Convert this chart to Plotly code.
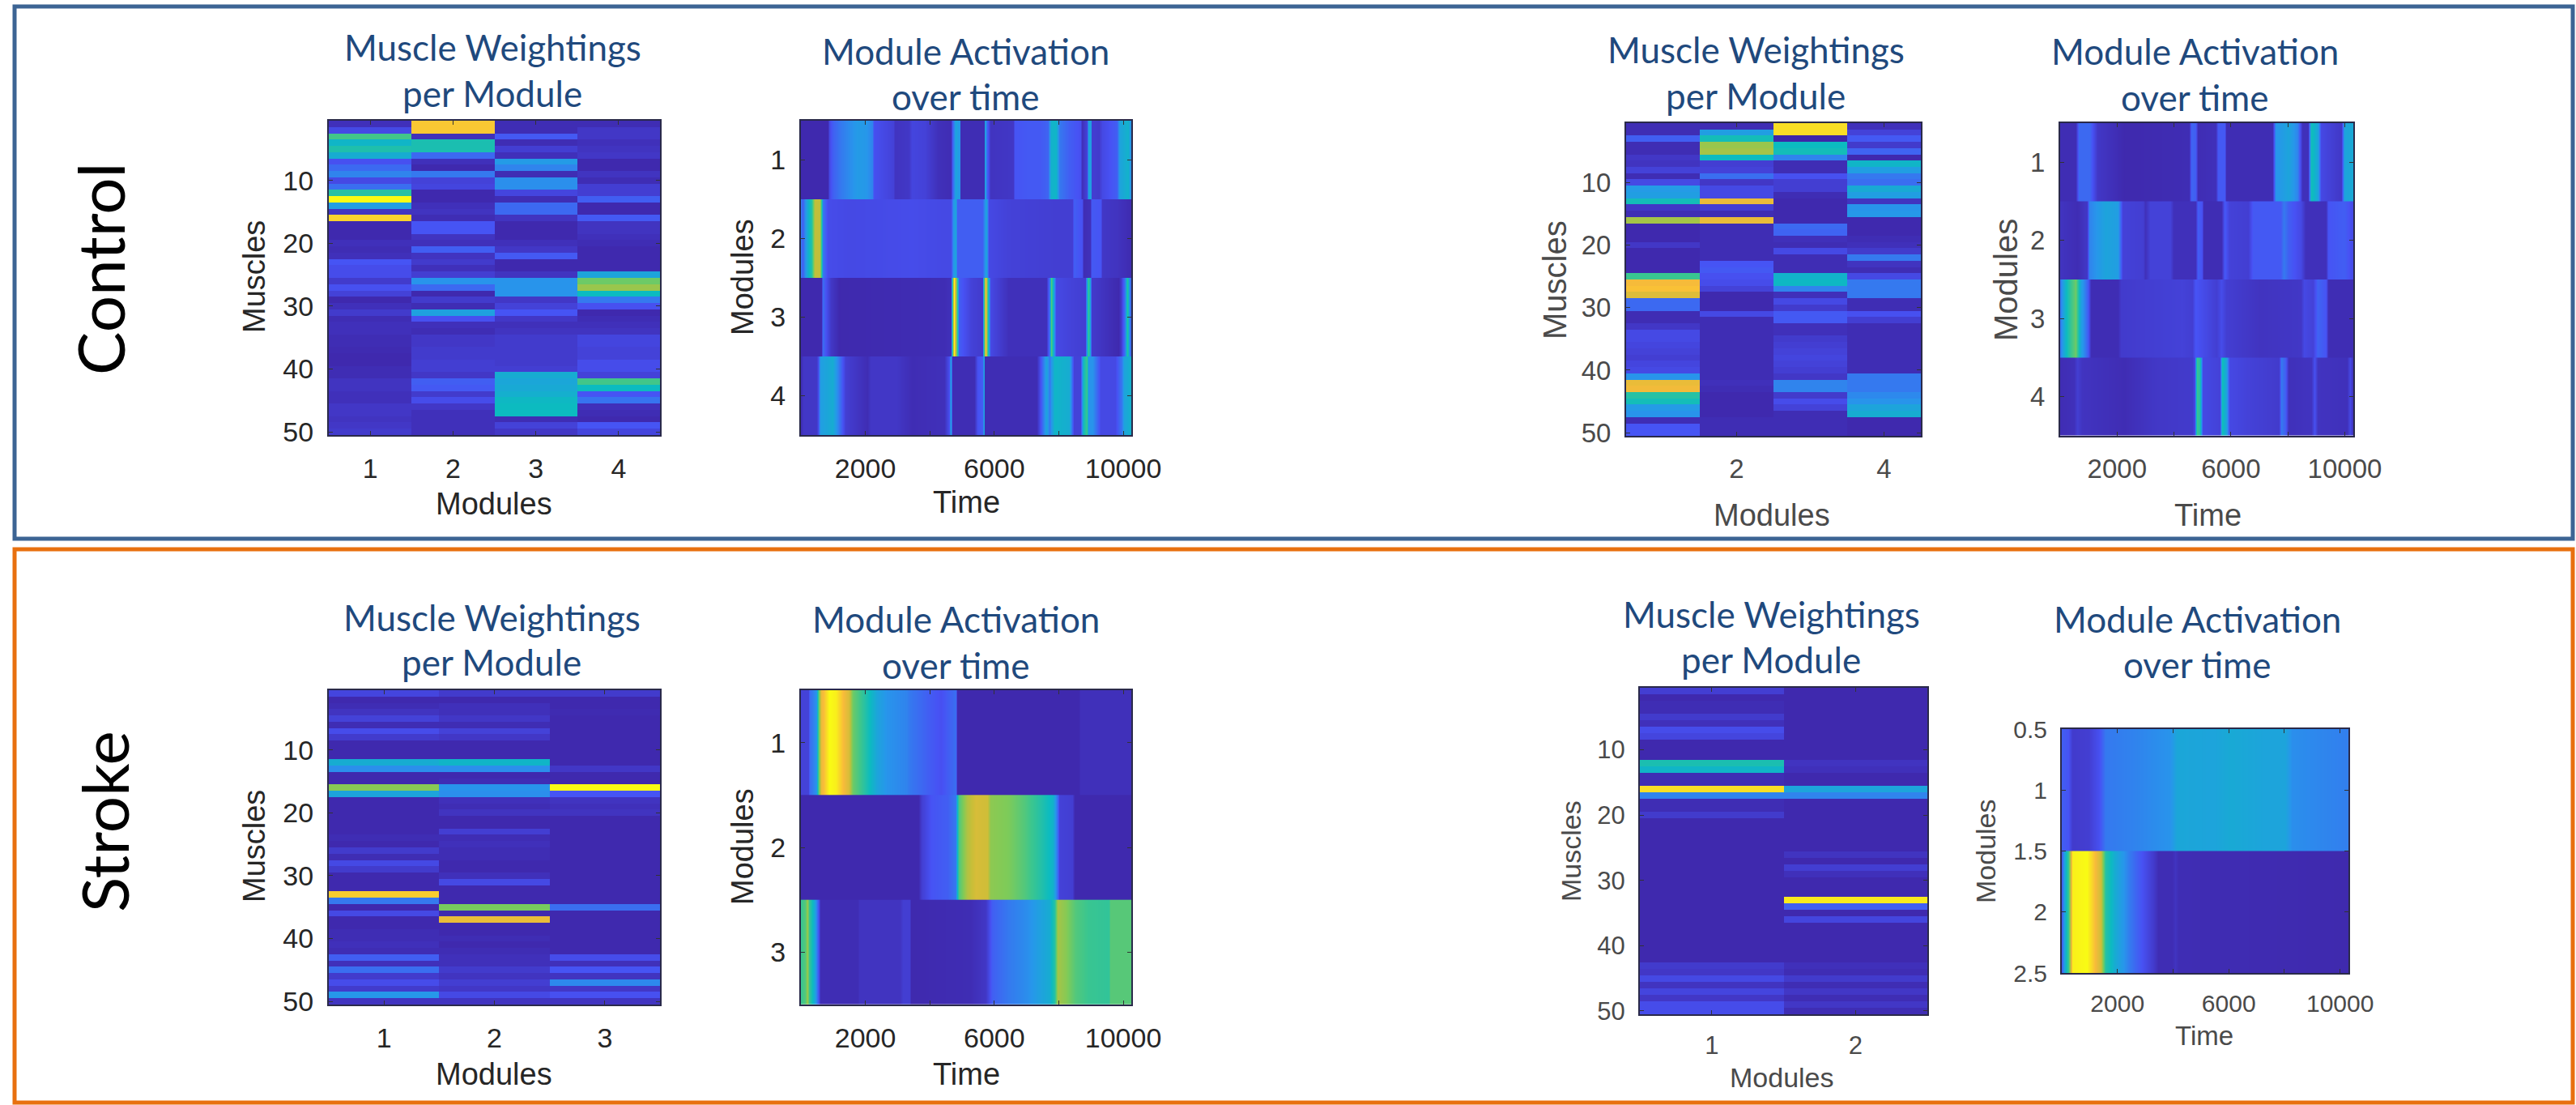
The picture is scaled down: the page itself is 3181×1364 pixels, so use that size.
import plotly.graph_objects as go

W, H = 3181, 1364

parula = [[0.0, "#3E26A8"], [0.127, "#4752F4"], [0.254, "#2796EB"], [0.38, "#0CBBC0"],
          [0.508, "#3CC68E"], [0.635, "#7FCB58"], [0.762, "#C8BE38"], [0.889, "#F9BB3A"], [1.0, "#F9FB14"]]

TITLE_COLOR = "#1F497D"
TICK_COLOR = "#262626"
SOFT_COLOR = "#4A4A4A"

# ---- Muscle weightings (50 muscles x modules) ----
ctrl1_w1 = [.03,.10,.52,.36,.43,.33,.12,.17,.22,.10, .18,.45,1.0,.28,.04,.93,.01,.01,.01,.03,
            .02,.03,.13,.11,.11,.06,.12,.08,.01,.03, .06,.02,.03,.03,.02,.02,.015,.01,.01,.02,
            .02,.04,.04,.03,.03,.05,.05,.04,.05,.06]
ctrl1_w2 = [.91,.91,.03,.42,.42,.17,.03,.01,.20,.08, .09,.01,.01,.03,.04,.02,.13,.13,.04,.03,
            .15,.04,.06,.03,.07,.25,.17,.01,.06,.02, .29,.12,.03,.02,.05,.05,.06,.06,.07,.07,
            .05,.15,.14,.06,.11,.05,.03,.03,.03,.03]
ctrl1_w3 = [.02,.02,.14,.02,.07,.03,.27,.22,.02,.24, .24,.09,.02,.17,.17,.04,.01,.01,.01,.03,
            .05,.14,.01,.01,.04,.25,.25,.25,.05,.08, .13,.05,.03,.04,.06,.06,.06,.06,.06,.07,
            .33,.31,.32,.34,.37,.38,.38,.02,.08,.05]
ctrl1_w4 = [.02,.05,.05,.03,.04,.05,.01,.01,.04,.02, .07,.07,.15,.01,.01,.14,.04,.04,.03,.02,
            .01,.01,.01,.01,.30,.60,.68,.38,.20,.12, .01,.02,.03,.04,.09,.09,.08,.08,.11,.11,
            .08,.52,.38,.13,.19,.03,.02,.01,.13,.09]

ctrl2_w1 = [.02,.02,.15,.02,.02,.05,.04,.08,.02,.10, .27,.28,.40,.05,.02,.70,.01,.01,.01,.05,
            .01,.01,.01,.01,.50,.88,.90,.82,.17,.17, .02,.02,.05,.10,.10,.09,.08,.07,.09,.10,
            .25,.85,.87,.45,.40,.27,.25,.02,.13,.13]
ctrl2_w2 = [.02,.28,.40,.68,.70,.38,.07,.08,.18,.05, .10,.10,.85,.07,.02,.85,.02,.02,.02,.02,
            .02,.02,.13,.14,.12,.11,.08,.01,.01,.01, .10,.02,.02,.02,.02,.02,.02,.02,.02,.02,
            .02,.03,.02,.01,.01,.01,.01,.02,.02,.02]
ctrl2_w3 = [.95,.95,.00,.38,.40,.22,.02,.02,.12,.07, .07,.02,.01,.01,.01,.01,.17,.16,.03,.02,
            .10,.02,.02,.02,.35,.37,.22,.03,.10,.06, .14,.14,.03,.03,.06,.07,.08,.09,.08,.07,
            .05,.22,.22,.06,.11,.08,.02,.02,.02,.02]
ctrl2_w4 = [.03,.08,.14,.06,.16,.01,.36,.28,.20,.18, .32,.28,.04,.25,.26,.01,.01,.01,.02,.03,
            .06,.20,.04,.02,.10,.20,.20,.20,.02,.02, .12,.07,.02,.02,.02,.02,.02,.02,.02,.02,
            .20,.20,.20,.23,.25,.30,.33,.01,.01,.01]

strk1_w1 = [.09,.01,.02,.04,.08,.02,.11,.06,.01,.01, .01,.33,.24,.01,.01,.65,.30,.01,.01,.01,
            .01,.01,.01,.02,.01,.06,.02,.10,.06,.01, .01,.01,.92,.20,.01,.10,.01,.01,.02,.02,
            .03,.02,.15,.03,.18,.06,.11,.06,.26,.04]
strk1_w2 = [.06,.01,.03,.03,.05,.02,.08,.05,.01,.01, .01,.36,.24,.01,.02,.25,.24,.03,.02,.04,
            .01,.01,.07,.02,.03,.02,.02,.01,.01,.03, .10,.01,.01,.01,.62,.01,.85,.01,.01,.02,
            .01,.02,.03,.03,.06,.04,.07,.05,.10,.04]
strk1_w3 = [.06,.01,.01,.015,.01,.01,.01,.01,.01,.01, .01,.01,.05,.01,.01,1.0,.13,.04,.03,.04,
            .01,.01,.01,.01,.01,.01,.01,.01,.01,.01, .01,.01,.01,.01,.18,.01,.01,.01,.01,.01,
            .01,.01,.11,.03,.13,.04,.23,.05,.12,.04]

strk2_w1 = [.07,.01,.02,.02,.06,.03,.11,.09,.01,.01, .01,.42,.36,.02,.02,.95,.22,.02,.02,.06,
            .01,.01,.01,.01,.01,.01,.01,.01,.01,.01, .01,.01,.01,.01,.01,.01,.01,.01,.01,.01,
            .01,.01,.06,.05,.10,.04,.09,.05,.11,.11]
strk2_w2 = [.01,.01,.01,.01,.01,.01,.01,.01,.01,.01, .01,.04,.03,.01,.01,.30,.22,.01,.01,.01,
            .01,.01,.01,.01,.01,.04,.01,.07,.03,.01, .01,.01,.97,.15,.01,.09,.01,.01,.01,.01,
            .01,.01,.03,.02,.06,.02,.05,.02,.05,.02]

# ---- Module activation over time: read time / level knots per module ----
ctrl1_m1_t = [0,823,873,972,1220,1766,2014,2212,2262,2857,2907,3353,3452,3849,4246,4643,4702,4791,4940,4960,5684,5714,5783,5883,6577,6627,7023,7420,7668,7767,7916,8015,8313,8660,8710,8859,8908,8988,9027,9255,9355,9801,9900,10148,10300]
ctrl1_m1_v = [.01,.01,.10,.15,.20,.27,.26,.22,.12,.08,.04,.05,.09,.08,.03,.02,.15,.30,.25,.02,.02,.30,.15,.04,.05,.13,.14,.14,.16,.35,.36,.20,.15,.12,.03,.08,.30,.28,.07,.06,.10,.15,.30,.35,.15]
ctrl1_m2_t = [0,60,180,330,430,575,625,675,825,1470,3450,4445,4660,4720,4790,4860,5635,5695,5755,5835,6430,7915,8410,8460,8710,8760,8960,9030,9305,9355,9800,10300]
ctrl1_m2_v = [.20,.15,.30,.45,.75,.75,.50,.20,.11,.10,.11,.10,.10,.25,.30,.15,.15,.25,.30,.10,.08,.07,.07,.15,.12,.02,.03,.14,.13,.05,.04,.01]
ctrl1_m3_t = [0,625,675,775,925,1170,4445,4660,4700,4760,4820,4890,5285,5635,5685,5735,5795,5885,6430,7620,7700,7765,7835,7915,8410,8810,8860,8910,8970,9030,9850,9920,10050,10120,10200,10300]
ctrl1_m3_v = [.01,.01,.18,.12,.05,.01,.02,.03,.50,1.0,.60,.15,.08,.06,.50,.90,.40,.10,.03,.03,.20,.55,.30,.10,.08,.07,.30,.50,.30,.06,.01,.05,.20,.45,.20,.10]
ctrl1_m4_t = [0,80,475,525,595,970,1170,1370,2065,2160,2955,3450,4445,4595,4660,4700,5385,5485,5615,5675,5715,7320,7470,7600,7715,7865,8315,8460,8660,8760,8860,8910,9055,9305,9750,9950,10020,10300]
ctrl1_m4_v = [.02,.05,.05,.10,.28,.33,.20,.07,.02,.05,.05,.02,.03,.12,.30,.02,.02,.12,.15,.30,.02,.02,.15,.30,.20,.36,.33,.08,.08,.40,.50,.25,.25,.10,.10,.20,.30,.36]

ctrl2_m1_t = [0,545,655,1035,1310,2235,4525,4610,4765,4850,5450,5560,5775,5830,7465,7575,8010,8340,8500,8720,8830,9050,9155,9865,9975,10300]
ctrl2_m1_v = [.02,.02,.17,.17,.05,.01,.02,.16,.15,.02,.03,.14,.14,.02,.02,.25,.30,.22,.03,.03,.40,.30,.10,.05,.30,.32]
ctrl2_m2_t = [0,600,925,1035,1580,2015,2180,2890,3000,3160,3870,3980,4740,4850,4980,5050,5670,5775,5940,6595,6760,7740,7850,8010,8450,8610,9320,9430,9975,10300]
ctrl2_m2_v = [.04,.02,.05,.22,.30,.28,.08,.07,.03,.08,.08,.03,.03,.15,.12,.02,.02,.14,.08,.07,.14,.14,.20,.15,.10,.03,.03,.13,.15,.10]
ctrl2_m3_t = [0,110,380,545,710,980,1090,2015,2125,4305,4630,4740,5505,5670,5830,7030,8450,8555,8885,9050,9320,9430,10300]
ctrl2_m3_v = [.20,.30,.50,.60,.30,.15,.02,.02,.06,.08,.07,.13,.07,.11,.07,.04,.05,.10,.08,.16,.13,.02,.02]
ctrl2_m4_t = [0,490,600,765,2235,3325,4630,4720,4795,4905,5015,5615,5700,5830,5940,6595,7685,7770,7900,8010,8830,8940,9050,10085,10190,10300]
ctrl2_m4_v = [.02,.03,.07,.04,.02,.05,.06,.10,.50,.45,.10,.08,.40,.30,.10,.08,.06,.20,.15,.03,.04,.12,.04,.03,.10,.02]

strk1_m1_t = [0,230,280,475,555,625,875,1070,1270,1470,1600,1865,2160,2360,2660,3255,3355,3950,4345,4790,4840,8610,8660,10300]
strk1_m1_v = [.08,.08,.18,.25,.60,.85,1.0,.98,.90,.80,.60,.50,.37,.30,.25,.22,.20,.15,.12,.18,.01,.01,.03,.03]
strk1_m2_t = [0,3650,3750,4045,4545,4790,4890,5140,5435,5785,5885,6430,6925,7420,7815,7965,8015,8410,8490,10300]
strk1_m2_v = [.01,.01,.07,.13,.15,.20,.55,.72,.80,.78,.66,.63,.55,.45,.35,.17,.08,.07,.01,.01]
strk1_m3_t = [0,130,200,260,425,525,595,1765,1815,3055,3155,3375,3415,5240,5735,5930,6430,7025,7720,7865,7965,8215,8510,8910,9555,9600,10300]
strk1_m3_v = [.50,.55,.68,.50,.30,.15,.02,.02,.04,.04,.07,.07,.01,.02,.05,.15,.20,.24,.33,.45,.70,.65,.55,.50,.48,.56,.56]

strk2_m1_t = [0,225,390,950,1340,1560,2675,3900,4125,5465,6020,7360,8030,8250,10300]
strk2_m1_v = [.15,.13,.06,.07,.12,.20,.22,.25,.31,.30,.32,.30,.30,.24,.21]
strk2_m2_t = [0,225,390,890,1170,1395,1560,1895,2450,2900,3290,3455,3960,4070,4180,10300]
strk2_m2_v = [.15,.50,.98,1.0,.90,.78,.45,.33,.20,.12,.06,.02,.02,.04,.02,.01]

muscle_ticks = [10, 20, 30, 40, 50]
time_ticks = [2000, 4000, 6000, 8000, 10000]
time_labels = ["2000", "", "6000", "", "10000"]

# panel frames in page pixels: (x0, x1, y0, y1)
frames = {
    "A": (406, 815, 149, 537),
    "B": (989, 1397, 149, 537),
    "C": (2008, 2372, 152, 538),
    "D": (2544, 2906, 152, 538),
    "E": (406, 815, 852, 1240),
    "F": (989, 1397, 852, 1240),
    "G": (2025, 2380, 849, 1252),
    "H": (2546, 2900, 900, 1201),
}

def px_x(v): return v / W
def px_y(v): return 1 - v / H

fig = go.Figure()
layout = dict(width=W, height=H, autosize=False, margin=dict(l=0, r=0, t=0, b=0, autoexpand=False),
              paper_bgcolor="white", plot_bgcolor="white", showlegend=False,
              coloraxis=dict(colorscale=parula, cmin=0, cmax=1, showscale=False),
              font=dict(family="Liberation Sans", color=TICK_COLOR))

def set_axes(idx, key, xrange, yrange, xticks, xtext, yticks, ytext, size, color):
    x0, x1, y0, y1 = frames[key]
    common = dict(ticks="inside", ticklen=5, tickwidth=1, tickcolor="#333333", mirror="ticks",
                  showline=True, linecolor="#2A2A4A", linewidth=2, showgrid=False, zeroline=False,
                  automargin=False, ticklabelstandoff=10,
                  tickfont=dict(family="Liberation Sans", size=size, color=color))
    suffix = "" if idx == 1 else str(idx)
    layout["xaxis" + suffix] = dict(domain=[px_x(x0), px_x(x1)], range=xrange, anchor="y" + suffix,
                                    tickmode="array", tickvals=xticks, ticktext=xtext, **common)
    layout["yaxis" + suffix] = dict(domain=[px_y(y1), px_y(y0)], range=yrange, anchor="x" + suffix,
                                    tickmode="array", tickvals=yticks, ticktext=ytext, **common)
    return "x" + suffix, "y" + suffix

def weights_panel(idx, key, cols, xticks, size, color=TICK_COLOR):
    xa, ya = set_axes(idx, key, [0.5, len(cols) + 0.5], [50.5, 0.5],
                      xticks, [str(v) for v in xticks], muscle_ticks, [str(v) for v in muscle_ticks], size, color)
    z = [list(r) for r in zip(*cols)]
    fig.add_trace(go.Heatmap(z=z, x=list(range(1, len(cols) + 1)), y=list(range(1, 51)),
                             coloraxis="coloraxis", xaxis=xa, yaxis=ya))

def activation_panel(idx, key, rows, xmax, size, color=TICK_COLOR, yticks=None, ytext=None):
    n = len(rows)
    yt = yticks or list(range(1, n + 1))
    xa, ya = set_axes(idx, key, [0, xmax], [n + 0.5, 0.5], time_ticks, time_labels,
                      yt, ytext or [str(v) for v in yt], size, color)
    for r, (t, v) in enumerate(rows, start=1):
        # each row runs slightly under the next one so no seam shows between them
        fig.add_trace(go.Heatmap(z=[v, v], x=t, y=[r - 0.5, r, r + 0.53], coloraxis="coloraxis",
                                 xaxis=xa, yaxis=ya, zsmooth="best"))

weights_panel(1, "A", [ctrl1_w1, ctrl1_w2, ctrl1_w3, ctrl1_w4], [1, 2, 3, 4], 34)
activation_panel(2, "B", [(ctrl1_m1_t, ctrl1_m1_v), (ctrl1_m2_t, ctrl1_m2_v), (ctrl1_m3_t, ctrl1_m3_v), (ctrl1_m4_t, ctrl1_m4_v)], 10250, 34)
weights_panel(3, "C", [ctrl2_w1, ctrl2_w2, ctrl2_w3, ctrl2_w4], [2, 4], 33, SOFT_COLOR)
activation_panel(4, "D", [(ctrl2_m1_t, ctrl2_m1_v), (ctrl2_m2_t, ctrl2_m2_v), (ctrl2_m3_t, ctrl2_m3_v), (ctrl2_m4_t, ctrl2_m4_v)], 10300, 33, SOFT_COLOR)
weights_panel(5, "E", [strk1_w1, strk1_w2, strk1_w3], [1, 2, 3], 34)
activation_panel(6, "F", [(strk1_m1_t, strk1_m1_v), (strk1_m2_t, strk1_m2_v), (strk1_m3_t, strk1_m3_v)], 10250, 34)
weights_panel(7, "G", [strk2_w1, strk2_w2], [1, 2], 31, SOFT_COLOR)
activation_panel(8, "H", [(strk2_m1_t, strk2_m1_v), (strk2_m2_t, strk2_m2_v)], 10300, 30, SOFT_COLOR,
                 [0.5, 1, 1.5, 2, 2.5], ["0.5", "1", "1.5", "2", "2.5"])

annotations = []
def label(text, cx, cy, size, color, family="Lato", angle=0):
    annotations.append(dict(text=text, x=px_x(cx), y=px_y(cy), xref="paper", yref="paper",
                            xanchor="center", yanchor="middle", showarrow=False, textangle=angle,
                            font=dict(family=family, size=size, color=color)))

# panel headings: first line, second line, centre x, y of each line
for a, b, cx, y1, y2 in [
    ("Muscle Weightings", "per Module", 608, 58, 115),
    ("Module Activation", "over time", 1192, 63, 119),
    ("Muscle Weightings", "per Module", 2168, 61, 118),
    ("Module Activation", "over time", 2710, 63, 120),
    ("Muscle Weightings", "per Module", 607, 762, 817),
    ("Module Activation", "over time", 1180, 764, 821),
    ("Muscle Weightings", "per Module", 2187, 758, 814),
    ("Module Activation", "over time", 2713, 764, 820)]:
    label(a, cx, y1, 44, TITLE_COLOR)
    label(b, cx, y2, 44, TITLE_COLOR)

# axis titles
for text, cx, cy, ang, size, color in [
    ("Muscles", 314, 342, -90, 38, TICK_COLOR), ("Modules", 610, 622, 0, 38, TICK_COLOR),
    ("Modules", 917, 342, -90, 38, TICK_COLOR), ("Time", 1193, 620, 0, 38, TICK_COLOR),
    ("Muscles", 1920, 346, -90, 40, SOFT_COLOR), ("Modules", 2188, 636, 0, 38, SOFT_COLOR),
    ("Modules", 2477, 346, -90, 40, SOFT_COLOR), ("Time", 2726, 636, 0, 38, SOFT_COLOR),
    ("Muscles", 314, 1045, -90, 38, TICK_COLOR), ("Modules", 610, 1326, 0, 38, TICK_COLOR),
    ("Modules", 917, 1045, -90, 38, TICK_COLOR), ("Time", 1193, 1326, 0, 38, TICK_COLOR),
    ("Muscles", 1940, 1051, -90, 34, SOFT_COLOR), ("Modules", 2200, 1330, 0, 34, SOFT_COLOR),
    ("Modules", 2452, 1051, -90, 34, SOFT_COLOR), ("Time", 2722, 1278, 0, 33, SOFT_COLOR)]:
    label(text, cx, cy, size, color, "Liberation Sans", ang)

label("Control", 123, 332, 80, "black", "Lato", -90)
label("Stroke", 128, 1014, 80, "black", "Lato", -90)

shapes = [
    dict(type="rect", xref="paper", yref="paper", x0=px_x(18), x1=px_x(3177), y0=px_y(8), y1=px_y(665),
         line=dict(color="#3C6494", width=5)),
    dict(type="rect", xref="paper", yref="paper", x0=px_x(18), x1=px_x(3177), y0=px_y(678), y1=px_y(1361),
         line=dict(color="#E8700F", width=5)),
]
layout["annotations"] = annotations
layout["shapes"] = shapes
fig.update_layout(**layout)

fig.write_html("out.html", config={"displayModeBar": False},
               post_script="document.body.style.margin='0';document.body.style.overflow='hidden';")
